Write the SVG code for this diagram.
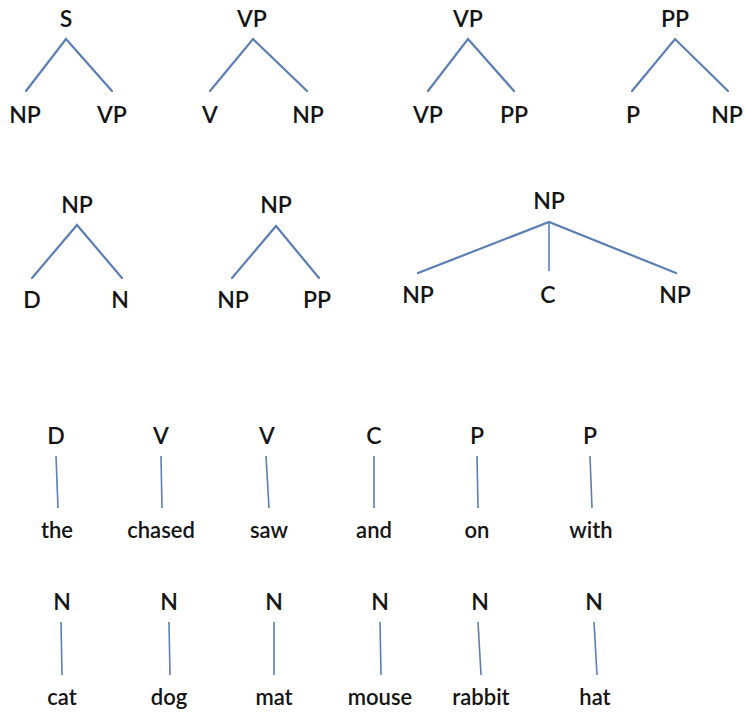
<svg xmlns="http://www.w3.org/2000/svg" width="746" height="714" viewBox="0 0 746 714">
  <style>
    .lbl { font-family: "Lato", "Open Sans", "Liberation Sans", sans-serif; font-size: 23px; font-weight: 600; fill: #141414; text-anchor: middle; }
    .word { font-family: "Lato", "Open Sans", "Liberation Sans", sans-serif; font-size: 22px; font-weight: 600; fill: #141414; text-anchor: middle; }
    .edge { stroke: #5b7fb4; stroke-width: 2.2; fill: none; stroke-linecap: round; }
    .lex { stroke: #5b7fb4; stroke-width: 1.6; fill: none; }
  </style>
  <rect width="746" height="714" fill="#ffffff"/>

  <!-- phrase-structure rules and lexicon: connectors -->
  <g id="connectors">
    <!-- S -> NP VP -->
    <polyline class="edge" points="26,91 66,39 112,91"/>
    <!-- VP -> V NP -->
    <polyline class="edge" points="210,91 253,39 307,91"/>
    <!-- VP -> VP PP -->
    <polyline class="edge" points="428,91 468,39 514,91"/>
    <!-- PP -> P NP -->
    <polyline class="edge" points="632,91 675,39 728,91"/>
    <!-- NP -> D N -->
    <polyline class="edge" points="32,278 77,225 122,278"/>
    <!-- NP -> NP PP -->
    <polyline class="edge" points="232,278 276,226 319,278"/>
    <!-- NP -> NP C NP -->
    <polyline class="edge" points="418,273 549,222 676,273"/>
    <line class="lex" x1="549" y1="222" x2="549" y2="271"/>

    <!-- lexical entries, first row -->
    <line class="lex" x1="56" y1="456" x2="58" y2="508"/>
    <line class="lex" x1="161" y1="456" x2="162" y2="508"/>
    <line class="lex" x1="266" y1="456" x2="269" y2="508"/>
    <line class="lex" x1="374" y1="456" x2="374" y2="508"/>
    <line class="lex" x1="477" y1="456" x2="478" y2="508"/>
    <line class="lex" x1="590" y1="456" x2="592" y2="508"/>

    <!-- lexical entries, second row -->
    <line class="lex" x1="61" y1="622" x2="62" y2="675"/>
    <line class="lex" x1="169" y1="622" x2="170" y2="675"/>
    <line class="lex" x1="274" y1="622" x2="274" y2="675"/>
    <line class="lex" x1="380" y1="622" x2="381" y2="675"/>
    <line class="lex" x1="478" y1="622" x2="481" y2="675"/>
    <line class="lex" x1="594" y1="622" x2="597" y2="675"/>
  </g>

  <!-- rule S -> NP VP -->
  <g id="r1-S"><text class="lbl" x="66" y="27">S</text></g>
  <g id="r1-NP"><text class="lbl" x="25" y="123">NP</text></g>
  <g id="r1-VP"><text class="lbl" x="112" y="123">VP</text></g>

  <!-- rule VP -> V NP -->
  <g id="r2-VP"><text class="lbl" x="252" y="27">VP</text></g>
  <g id="r2-V"><text class="lbl" x="210" y="123">V</text></g>
  <g id="r2-NP"><text class="lbl" x="308" y="123">NP</text></g>

  <!-- rule VP -> VP PP -->
  <g id="r3-VP"><text class="lbl" x="468" y="27">VP</text></g>
  <g id="r3-VPc"><text class="lbl" x="428" y="123">VP</text></g>
  <g id="r3-PP"><text class="lbl" x="514" y="123">PP</text></g>

  <!-- rule PP -> P NP -->
  <g id="r4-PP"><text class="lbl" x="675" y="27">PP</text></g>
  <g id="r4-P"><text class="lbl" x="633" y="123">P</text></g>
  <g id="r4-NP"><text class="lbl" x="727" y="123">NP</text></g>

  <!-- rule NP -> D N -->
  <g id="r5-NP"><text class="lbl" x="77" y="213">NP</text></g>
  <g id="r5-D"><text class="lbl" x="32" y="308">D</text></g>
  <g id="r5-N"><text class="lbl" x="120" y="308">N</text></g>

  <!-- rule NP -> NP PP -->
  <g id="r6-NP"><text class="lbl" x="276" y="213">NP</text></g>
  <g id="r6-NPc"><text class="lbl" x="233" y="308">NP</text></g>
  <g id="r6-PP"><text class="lbl" x="317" y="308">PP</text></g>

  <!-- rule NP -> NP C NP -->
  <g id="r7-NP"><text class="lbl" x="549" y="209">NP</text></g>
  <g id="r7-NPl"><text class="lbl" x="418" y="303">NP</text></g>
  <g id="r7-C"><text class="lbl" x="548" y="303">C</text></g>
  <g id="r7-NPr"><text class="lbl" x="675" y="303">NP</text></g>

  <!-- lexicon: determiners, verbs, conjunction, prepositions -->
  <g id="lex-D"><text class="lbl" x="56" y="444">D</text></g>
  <g id="lex-the"><text class="word" x="57" y="538">the</text></g>
  <g id="lex-V1"><text class="lbl" x="161" y="444">V</text></g>
  <g id="lex-chased"><text class="word" x="161" y="538">chased</text></g>
  <g id="lex-V2"><text class="lbl" x="267" y="444">V</text></g>
  <g id="lex-saw"><text class="word" x="269" y="538">saw</text></g>
  <g id="lex-C"><text class="lbl" x="374" y="444">C</text></g>
  <g id="lex-and"><text class="word" x="374" y="538">and</text></g>
  <g id="lex-P1"><text class="lbl" x="477" y="444">P</text></g>
  <g id="lex-on"><text class="word" x="477" y="538">on</text></g>
  <g id="lex-P2"><text class="lbl" x="590" y="444">P</text></g>
  <g id="lex-with"><text class="word" x="591" y="538">with</text></g>

  <!-- lexicon: nouns -->
  <g id="lex-N1"><text class="lbl" x="62" y="610">N</text></g>
  <g id="lex-cat"><text class="word" x="62" y="705">cat</text></g>
  <g id="lex-N2"><text class="lbl" x="169" y="610">N</text></g>
  <g id="lex-dog"><text class="word" x="169" y="705">dog</text></g>
  <g id="lex-N3"><text class="lbl" x="274" y="610">N</text></g>
  <g id="lex-mat"><text class="word" x="274" y="705">mat</text></g>
  <g id="lex-N4"><text class="lbl" x="380" y="610">N</text></g>
  <g id="lex-mouse"><text class="word" x="380" y="705">mouse</text></g>
  <g id="lex-N5"><text class="lbl" x="480" y="610">N</text></g>
  <g id="lex-rabbit"><text class="word" x="481" y="705">rabbit</text></g>
  <g id="lex-N6"><text class="lbl" x="594" y="610">N</text></g>
  <g id="lex-hat"><text class="word" x="595" y="705">hat</text></g>
</svg>
